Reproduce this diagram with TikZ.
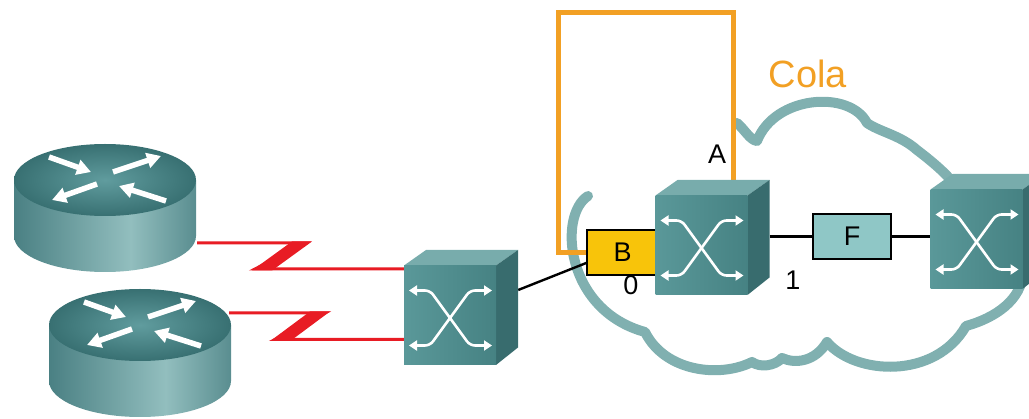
\documentclass[tikz,border=0pt]{standalone}
\usepackage{fontspec}
\setmainfont{Liberation Sans}
\usetikzlibrary{arrows.meta}

\definecolor{cloudcol}{RGB}{128,176,176}
\definecolor{orangecol}{RGB}{242,160,36}
\definecolor{bfill}{RGB}{248,196,10}
\definecolor{ffill}{RGB}{143,199,198}
\definecolor{serialred}{RGB}{232,28,36}
\definecolor{swfront}{RGB}{90,152,153}
\definecolor{swfront2}{RGB}{70,130,131}
\definecolor{swtop}{RGB}{120,172,172}
\definecolor{swside}{RGB}{56,108,110}
\definecolor{rtopA}{RGB}{96,156,158}
\definecolor{rtopB}{RGB}{56,112,114}
\definecolor{rsideA}{RGB}{42,90,93}
\definecolor{rsideB}{RGB}{146,190,190}
\definecolor{rsideC}{RGB}{74,128,131}

\pgfdeclarehorizontalshading{routerside}{100bp}{color(0bp)=(rsideA); color(25bp)=(rsideC); color(57bp)=(rsideB); color(80bp)=(rsideC); color(100bp)=(rsideA)}

\tikzset{
  % router: origin at the centre of the top ellipse
  pics/router/.style={code={
    \path[shading=routerside] (-91,0) -- (-91,56)
      arc[start angle=180,end angle=0,x radius=91,y radius=36] -- (91,0) -- cycle;
    \shade[inner color=rtopA, outer color=rtopB] (0,0) ellipse [x radius=91, y radius=36];
    \draw[rarrow] (-56,-23) -- (-14,-8);
    \draw[rarrow] (8,-8) -- (56,-24);
    \draw[rarrow] (-8,4) -- (-53,20);
    \draw[rarrow] (61,21) -- (14,6);
  }},
  % workgroup switch: origin at the centre of its bounding box
  pics/switch/.style={code={
    \fill[swtop] (-57,-42) -- (-35,-57.5) -- (57,-57.5) -- (35,-42) -- cycle;
    \fill[swside] (35,-42) -- (57,-57.5) -- (57,40) -- (35,57.5) -- cycle;
    \shade[left color=swfront, right color=swfront2] (-57,-42) rectangle (35,57.5);
    \draw[swarrow] (-52,-17) -- (-31,-17) -- (9,38) -- (31,38);
    \draw[swarrow] (-52,38) -- (-31,38) -- (9,-17) -- (31,-17);
  }},
  rarrow/.style={white, line width=5.5pt, -{Triangle[length=14pt,width=15pt]}},
  swarrow/.style={white, line width=2.6pt, rounded corners=5pt,
    {Triangle[length=8pt,width=10pt]}-{Triangle[length=8pt,width=10pt]}},
  devbox/.style={minimum width=114pt, minimum height=115pt, inner sep=0pt, draw=none},
  cloudline/.style={cloudcol, line width=10pt, line cap=round, line join=round},
  serial/.style={serialred, line width=3pt},
  zfill/.style={fill=serialred},
  wire/.style={black, line width=2.4pt},
  loopline/.style={orangecol, line width=5pt},
  portbox/.style={draw=black, line width=1.6pt, minimum width=71pt, minimum height=45pt,
    inner sep=0pt, font=\fontsize{27}{30}\selectfont},
  lbl/.style={inner sep=0pt, font=\fontsize{27}{30}\selectfont},
}

\begin{document}
\begin{tikzpicture}[x=1pt, y=-1pt]
\useasboundingbox (0,0) rectangle (1029,419);

% cloud outline, lobe by lobe
\draw[cloudline]
  (737,123) .. controls (745,130) and (750,140) .. (757,141)
  .. controls (775,95) and (850,90) .. (867,123)
  .. controls (880,132) and (900,135) .. (917,150)
  .. controls (930,160) and (945,172) .. (955,185)
  .. controls (1000,210) and (1030,240) .. (1023,272)
  .. controls (1022,300) and (995,318) .. (966,326)
  .. controls (935,380) and (855,375) .. (827,342)
  .. controls (815,362) and (795,364) .. (782,358)
  .. controls (775,366) and (760,368) .. (752,362)
  .. controls (720,378) and (665,372) .. (645,332)
  .. controls (565,310) and (558,215) .. (588,196);

% device anchors
\node[devbox] (s1) at (461,307.5) {};
\node[devbox] (s2) at (712.5,237.5) {};
\node[devbox] (s3) at (987.5,231.5) {};
\coordinate (r1) at (105,180);
\coordinate (r2) at (140,325);
\coordinate (r1port) at (197,243);
\coordinate (r2port) at (229,313);
\coordinate (loopcorner) at (558,13);

% serial links
\draw[serial] (r1port) -- ++(108,0) -- ++(-50,26) -- ([yshift=38.5pt]s1.west);
\fill[zfill] (292,241.5) -- (312,241.5) -- (272,270.5) -- (252,270.5) -- cycle;
\draw[serial] (r2port) -- ++(96,0) -- ++(-50,26.5) -- ([yshift=-32pt]s1.west);
\fill[zfill] (310,311.5) -- (330,311.5) -- (291,340.5) -- (271,340.5) -- cycle;

% loop on the frame-relay switch
\draw[loopline] (588,253) -| (loopcorner) -| ([xshift=20.5pt]s2.north);

% port boxes and links
\node[portbox, fill=bfill] (B) at (622.5,252.5) {B};
\draw[wire] ([yshift=17.5pt]s1.east) -- ([yshift=-10.5pt]B.west);
\node[portbox, fill=ffill, minimum width=78pt] (F) at (852,236.5) {F};
\draw[wire] (F.west -| s2.east) -- (F.west);
\draw[wire] (F.east) -- (F.east -| s3.west);

% devices
\pic at (r1) {router};
\pic at (r2) {router};
\pic at (s1.center) {switch};
\pic at (s2.center) {switch};
\pic at (s3.center) {switch};

% labels
\node[lbl] (labA) at (717,154) {A};
\node[lbl] (lab0) at (631,285) {0};
\node[lbl] (lab1) at (793,280) {1};
\node[inner sep=0pt, text=orangecol, font=\fontsize{38}{40}\selectfont] (cola) at (808,74) {Cola};
\end{tikzpicture}
\end{document}
